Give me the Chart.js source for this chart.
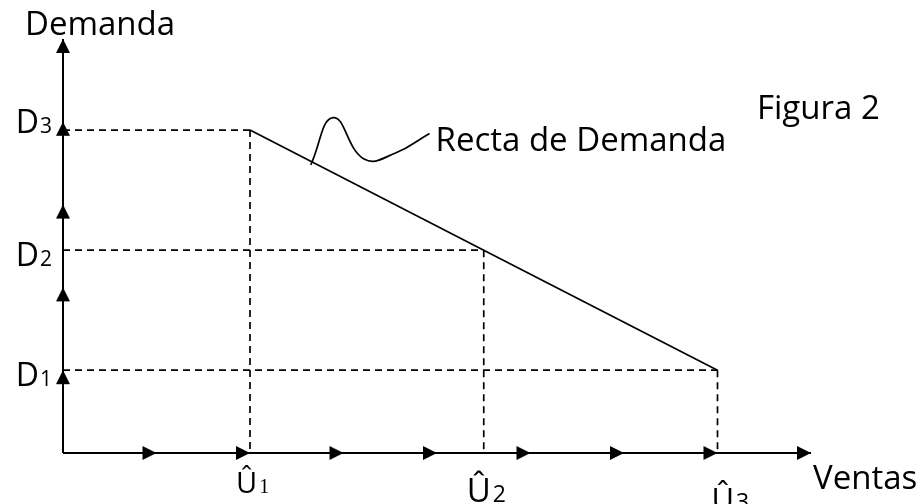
<!DOCTYPE html>
<html>
<head>
<meta charset="utf-8">
<script src="https://cdn.jsdelivr.net/npm/chart.js@4.4.1/dist/chart.umd.min.js"></script>
<style>
  html, body { margin: 0; padding: 0; background: #fff; }
  #wrap { width: 921px; height: 504px; position: relative; }
</style>
</head>
<body>
<div id="wrap"><canvas id="chart"></canvas></div>
<script>
// Axis arrow positions (data units)
const ventasTicks = [1, 2, 3, 4, 5, 6, 7, 8];
const demandaTicks = [1, 2, 3, 4, 5];

// Points on the demand line: Û1..Û3 against D3..D1
const ventas = [2, 4.5, 7];
const demanda = [3.9, 2.45, 1];
const ventasSubs = ['1', '2', '3'];
const demandaSubs = ['3', '2', '1'];

// Leader from the line to the "Recta de Demanda" note
const leaderX = [2.65, 2.89, 3.22, 3.55, 3.92];
const leaderY = [3.48, 4.05, 3.55, 3.62, 3.86];

const FONT = '"Open Sans", "DejaVu Sans", sans-serif';

// arrow head whose tip sits on the centre of the canvas
function makeArrow() {
    const c = document.createElement('canvas');
    c.width = 30; c.height = 14;
    const g = c.getContext('2d');
    g.fillStyle = '#000';
    g.beginPath();
    g.moveTo(15, 7);
    g.lineTo(1, 0);
    g.lineTo(1, 14);
    g.closePath();
    g.fill();
    return c;
}
const arrow = makeArrow();

function line(data, extra) {
    return Object.assign({
        data: data,
        showLine: true,
        borderColor: '#000',
        borderWidth: 1.4,
        pointRadius: 0,
        fill: false,
        clip: false
    }, extra || {});
}

const datasets = [];
// axes
datasets.push(line([{x: 0, y: 0}, {x: ventasTicks[ventasTicks.length - 1], y: 0}], {borderWidth: 2}));
datasets.push(line([{x: 0, y: 0}, {x: 0, y: demandaTicks[demandaTicks.length - 1]}], {borderWidth: 2}));
// dashed guides
ventas.forEach((v, i) => {
    datasets.push(line([{x: 0, y: demanda[i]}, {x: v, y: demanda[i]}], {borderDash: [7, 5], borderWidth: 1.7}));
    datasets.push(line([{x: v, y: demanda[i]}, {x: v, y: 0}], {borderDash: [7, 5], borderWidth: 1.7}));
});
// demand line
datasets.push(line(ventas.map((v, i) => ({x: v, y: demanda[i]})), {borderWidth: 1.7}));
// leader curve
datasets.push(line(leaderX.map((v, i) => ({x: v, y: leaderY[i]})), {borderWidth: 1.7, tension: 0.45}));
// arrow heads
datasets.push({
    data: ventasTicks.map(v => ({x: v, y: 0})),
    showLine: false, pointStyle: arrow, pointRadius: 5, rotation: 0, clip: false
});
datasets.push({
    data: demandaTicks.map(v => ({x: 0, y: v})),
    showLine: false, pointStyle: arrow, pointRadius: 5, rotation: -90, clip: false
});

// text labels
const labelsPlugin = {
    id: 'labels',
    afterDraw(chart) {
        const ctx = chart.ctx;
        const xs = chart.scales.x, ys = chart.scales.y;
        const x0 = xs.getPixelForValue(0);
        ctx.save();
        ctx.fillStyle = '#000';
        ctx.textBaseline = 'alphabetic';

        // D labels
        const dDy = [3, 16, 16];
        demanda.forEach((d, i) => {
            const y = ys.getPixelForValue(d) + dDy[i];
            ctx.textAlign = 'right';
            ctx.font = '21px ' + FONT;
            const subW = ctx.measureText(demandaSubs[i]).width;
            ctx.fillText(demandaSubs[i], x0 - 11, y);
            ctx.font = '32px ' + FONT;
            ctx.fillText('D', x0 - 12 - subW, y);
        });

        // Û labels
        const uDx = [-14, -17, -6];
        const uDy = [493, 502, 510];
        const uSize = [29, 33, 31];
        ventas.forEach((v, i) => {
            const x = xs.getPixelForValue(v) + uDx[i];
            ctx.textAlign = 'left';
            ctx.font = uSize[i] + 'px ' + FONT;
            ctx.fillText('\u00DB', x, uDy[i]);
            const w = ctx.measureText('\u00DB').width;
            ctx.font = (i === 0 ? '20px "Liberation Serif", serif' : '23px ' + FONT);
            ctx.fillText(ventasSubs[i], x + w + 2, uDy[i]);
        });

        ctx.font = '33px ' + FONT;
        ctx.textAlign = 'left';
        ctx.fillText('Demanda', x0 - 38, ys.getPixelForValue(demandaTicks[demandaTicks.length - 1]) - 4);
        ctx.fillText('Ventas', xs.getPixelForValue(ventasTicks[ventasTicks.length - 1]) + 2, 489);
        ctx.fillText('Figura 2', 757, 119);
        ctx.fillText('Recta de Demanda', xs.getPixelForValue(leaderX[leaderX.length - 1]) + 6, 151);
        ctx.restore();
    }
};

new Chart(document.getElementById('chart'), {
    type: 'scatter',
    data: { datasets: datasets },
    options: {
        responsive: true,
        maintainAspectRatio: false,
        animation: false,
        layout: { padding: { left: 63, right: 110, top: 39, bottom: 51 } },
        plugins: { legend: { display: false }, tooltip: { enabled: false } },
        scales: {
            x: { type: 'linear', min: 0, max: 8, display: false },
            y: { type: 'linear', min: 0, max: 5, display: false }
        }
    },
    plugins: [labelsPlugin]
});
</script>
</body>
</html>
